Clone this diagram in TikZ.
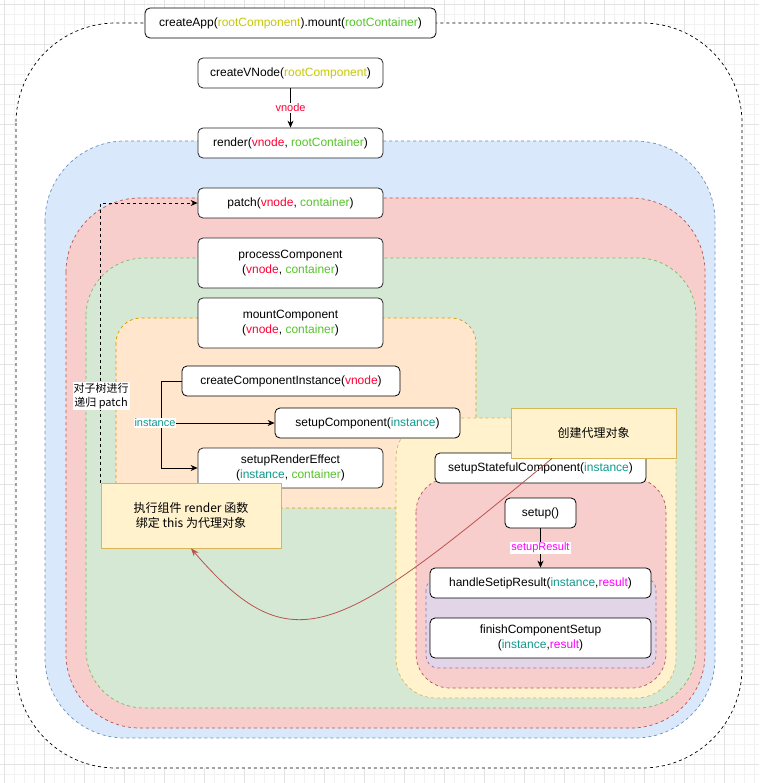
\documentclass[tikz,border=0pt]{standalone}
\usepackage{fontspec}
\setmainfont{Liberation Sans}
\newfontfamily\cjk{Noto Sans CJK SC}
\usetikzlibrary{arrows.meta,calc}
\definecolor{rcC}{HTML}{C8C800}
\definecolor{gcC}{HTML}{55C42A}
\definecolor{vnC}{HTML}{FF0033}
\definecolor{inC}{HTML}{10998E}
\definecolor{mgC}{HTML}{FF00FF}
\definecolor{blueF}{HTML}{DAE8FC}\definecolor{blueS}{HTML}{6C8EBF}
\definecolor{redF}{HTML}{F8CECC}\definecolor{redS}{HTML}{B85450}
\definecolor{greenF}{HTML}{D5E8D4}\definecolor{greenS}{HTML}{82B366}
\definecolor{orF}{HTML}{FFE6CC}\definecolor{orS}{HTML}{D79B00}
\definecolor{yeF}{HTML}{FFF2CC}\definecolor{yeS}{HTML}{D6B656}
\definecolor{puF}{HTML}{E1D5E7}\definecolor{puS}{HTML}{9673A6}
\newcommand{\rcT}[1]{\textcolor{rcC}{#1}}
\newcommand{\gcT}[1]{\textcolor{gcC}{#1}}
\newcommand{\vnT}[1]{\textcolor{vnC}{#1}}
\newcommand{\inT}[1]{\textcolor{inC}{#1}}
\newcommand{\mgT}[1]{\textcolor{mgC}{#1}}
\begin{document}
\begin{tikzpicture}[x=1pt,y=-1pt,
  fnbox/.style={draw=black!85, line width=0.8pt, rounded corners=5pt, fill=white,
    inner sep=0pt, align=center, font=\fontsize{12}{14.5}\selectfont},
  notebox/.style={draw=yeS, line width=0.8pt, fill=yeF, inner sep=0pt, align=center,
    font=\cjk\fontsize{12}{15}\selectfont},
  grp/.style={dash pattern=on 3pt off 3pt, line width=0.7pt},
  arr/.style={-{Stealth[length=7pt,width=6pt]}, line width=0.8pt},
  lbl/.style={inner sep=1pt, font=\fontsize{11}{13}\selectfont}]
\useasboundingbox (0,0) rectangle (759,783);
\fill[white] (0,0) rectangle (759,783);
% faint grid
\foreach \i in {0,10,...,750} {\draw[black!5, line width=0.5pt] (\i+4,0) -- (\i+4,783);}
\foreach \i in {0,10,...,780} {\draw[black!5, line width=0.5pt] (0,\i+4) -- (759,\i+4);}
\foreach \i in {0,40,...,750} {\draw[black!11, line width=0.5pt] (\i+4,0) -- (\i+4,783);}
\foreach \i in {0,40,...,780} {\draw[black!11, line width=0.5pt] (0,\i+4) -- (759,\i+4);}
% groups
\draw[grp, draw=black, fill=white, rounded corners=100pt] (16,23) rectangle (742,768);
\draw[grp, draw=blueS, fill=blueF, rounded corners=80pt] (45,141) rectangle (715,738);
\draw[grp, draw=redS, fill=redF, rounded corners=74pt] (66,198) rectangle (705,728);
\draw[grp, draw=greenS, fill=greenF, rounded corners=58pt] (86,258) rectangle (696,708);
\draw[grp, draw=orS, fill=orF, rounded corners=25pt] (116,318) rectangle (476,508);
\draw[grp, draw=yeS, fill=yeF, rounded corners=40pt] (396,418) rectangle (676,698);
\draw[grp, draw=redS, fill=redF, rounded corners=34pt] (416,478) rectangle (666,688);
\draw[grp, draw=puS, fill=puF, rounded corners=12pt] (426,578) rectangle (656,668);
% boxes
\node[fnbox, draw=black, minimum width=291pt, minimum height=30pt] (app) at (290.5,23)
  {createApp(\rcT{rootComponent}).mount(\gcT{rootContainer})};
\node[fnbox, minimum width=185pt, minimum height=30pt] (cvn) at (290.5,73)
  {createVNode(\rcT{rootComponent})};
\node[fnbox, minimum width=185pt, minimum height=30pt] (rnd) at (290.5,143)
  {render(\vnT{vnode}, \gcT{rootContainer})};
\node[fnbox, minimum width=185pt, minimum height=30pt] (pat) at (290.5,203)
  {patch(\vnT{vnode}, \gcT{container})};
\node[fnbox, minimum width=185pt, minimum height=50pt] (pc) at (290.5,263)
  {processComponent\\(\vnT{vnode}, \gcT{container})};
\node[fnbox, minimum width=185pt, minimum height=50pt] (mc) at (290.5,323)
  {mountComponent\\(\vnT{vnode}, \gcT{container})};
\node[fnbox, draw=black, minimum width=218pt, minimum height=30pt] (cci) at (291,381)
  {createComponentInstance(\vnT{vnode})};
\node[fnbox, draw=black, minimum width=185pt, minimum height=30pt] (sc) at (367.5,423)
  {setupComponent(\inT{instance})};
\node[fnbox, minimum width=185pt, minimum height=40pt] (sre) at (290.5,468)
  {setupRenderEffect\\(\inT{instance}, \gcT{container})};
\node[fnbox, draw=black, minimum width=211pt, minimum height=30pt] (ssc) at (540.5,468)
  {setupStatefulComponent(\inT{instance})};
\node[notebox, minimum width=165pt, minimum height=50pt] (proxy) at (593.5,433)
  {创建代理对象};
\node[notebox, minimum width=180pt, minimum height=65pt] (exec) at (191,515.5)
  {执行组件 render 函数\\绑定 this 为代理对象};
\node[fnbox, draw=black, minimum width=71pt, minimum height=30pt] (stp) at (540.5,513)
  {setup()};
\node[fnbox, draw=black, minimum width=221pt, minimum height=30pt] (hsr) at (540.5,583)
  {handleSetipResult(\inT{instance},\mgT{result})};
\node[fnbox, draw=black, minimum width=221pt, minimum height=40pt] (fcs) at (540.5,638)
  {finishComponentSetup\\(\inT{instance},\mgT{result})};
% connectors
\draw[arr] (cvn) -- node[lbl, fill=white, text=vnC] {vnode} (rnd);
\draw[arr] (stp) -- node[lbl, fill=white, text=mgC, pos=0.5] {setupResult} (hsr);
\coordinate (fork) at (161,423);
\draw[arr] (cci.west) -- (cci.west -| fork) |- (sre.west);
\draw[arr] (fork) -- (sc.west);
\node[lbl, fill=white, text=inC] (instlbl) at (155,423) {instance};
\draw[arr, dash pattern=on 3pt off 3pt] (exec.north west) |- (pat.west);
\node[inner sep=1pt, fill=white, align=center, font=\cjk\fontsize{11}{14}\selectfont] (rec) at (101,396)
  {对子树进行\\递归 patch};
\draw[-{Stealth[length=8pt,width=6pt]}, draw=redS, line width=0.8pt]
  ($(proxy.south west)!0.25!(proxy.south east)$) .. controls (339,635) and (293,667) .. (exec.south);
\end{tikzpicture}
\end{document}
